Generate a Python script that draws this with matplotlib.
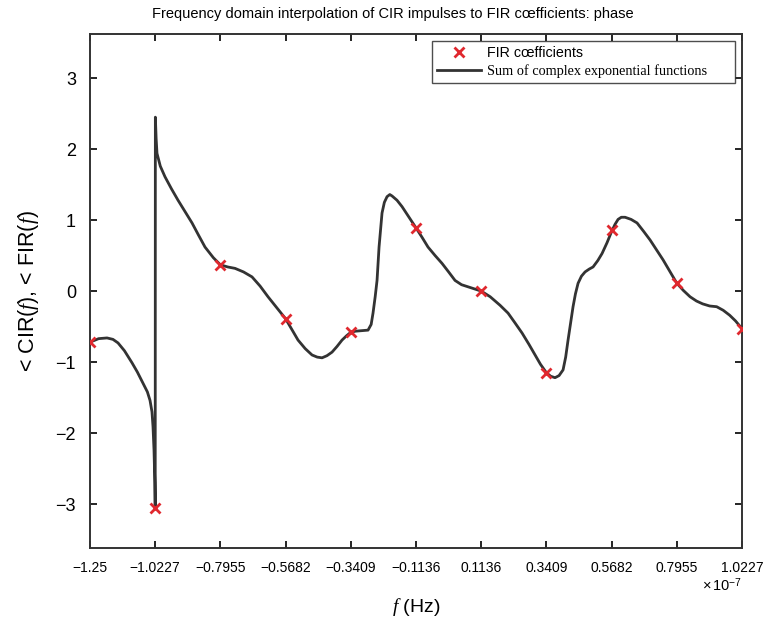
import numpy as np
import matplotlib
matplotlib.use('Agg')
import matplotlib.pyplot as plt

plt.rcParams['font.family'] = ['Liberation Sans', 'DejaVu Sans']
plt.rcParams['mathtext.fontset'] = 'custom'
plt.rcParams['mathtext.it'] = 'Liberation Serif:italic'
plt.rcParams['mathtext.rm'] = 'Liberation Sans'

# FIR coefficients (phase) at the sample frequencies, x in units of 1e-7 Hz
fir_f = [-1.25, -1.0227, -0.7955, -0.5682, -0.3409, -0.1136,
         0.1136, 0.3409, 0.5682, 0.7955, 1.0227]
fir_phase = [-0.72, -3.06, 0.37, -0.39, -0.58, 0.89,
             0.0, -1.15, 0.86, 0.12, -0.53]

# sum of complex exponential functions
curve_f = [-1.2500, -1.2200, -1.1907, -1.1700, -1.1524, -1.1300, -1.1036, -1.0850,
           -1.0652, -1.0500, -1.0408, -1.0340, -1.0304, -1.0269, -1.0240, -1.0227,
           -1.0222, -1.0195, -1.0165, -1.0050, -0.9886, -0.9660, -0.9432, -0.9190,
           -0.8944, -0.8720, -0.8491, -0.8200, -0.7955, -0.7700, -0.7445, -0.7150,
           -0.6853, -0.6570, -0.6295, -0.6000, -0.5682, -0.5450, -0.5249, -0.5000,
           -0.4761, -0.4580, -0.4412, -0.4240, -0.4064, -0.3890, -0.3715, -0.3560,
           -0.3409, -0.3250, -0.3088, -0.2950, -0.2809, -0.2700, -0.2635, -0.2560,
           -0.2495, -0.2460, -0.2425, -0.2370, -0.2321, -0.2240, -0.2146, -0.2050,
           -0.1972, -0.1800, -0.1624, -0.1380, -0.1136, -0.0930, -0.0718, -0.0470,
           -0.0229, 0.0000, 0.0224, 0.0450, 0.0677, 0.0900, 0.1136, 0.1450,
           0.1793, 0.2071, 0.2300, 0.2559, 0.2800, 0.3013, 0.3200, 0.3409,
           0.3560, 0.3710, 0.3850, 0.3989, 0.4080, 0.4163, 0.4250, 0.4337,
           0.4420, 0.4512, 0.4630, 0.4756, 0.4900, 0.5035, 0.5200, 0.5349,
           0.5520, 0.5682, 0.5800, 0.5906, 0.6020, 0.6150, 0.6360, 0.6568,
           0.6800, 0.7022, 0.7250, 0.7475, 0.7720, 0.7955, 0.8180, 0.8416,
           0.8640, 0.8855, 0.9100, 0.9343, 0.9570, 0.9796, 1.0000, 1.0227]
curve_phase = [-0.72, -0.67, -0.66, -0.68, -0.73, -0.84, -1.01, -1.14,
               -1.30, -1.42, -1.54, -1.70, -1.91, -2.24, -2.70, -3.06,
               2.45, 2.15, 1.94, 1.76, 1.61, 1.44, 1.28, 1.12,
               0.96, 0.79, 0.62, 0.47, 0.37, 0.34, 0.32, 0.27,
               0.20, 0.07, -0.08, -0.23, -0.39, -0.55, -0.69, -0.81,
               -0.90, -0.93, -0.94, -0.91, -0.86, -0.78, -0.69, -0.63,
               -0.58, -0.565, -0.56, -0.555, -0.55, -0.47, -0.31, -0.08,
               0.15, 0.38, 0.62, 0.88, 1.10, 1.25, 1.33, 1.36,
               1.34, 1.28, 1.19, 1.04, 0.89, 0.76, 0.62, 0.50,
               0.39, 0.27, 0.15, 0.09, 0.06, 0.03, 0.00, -0.08,
               -0.20, -0.31, -0.44, -0.59, -0.75, -0.90, -1.03, -1.15,
               -1.20, -1.22, -1.19, -1.11, -0.93, -0.69, -0.45, -0.22,
               -0.04, 0.11, 0.21, 0.27, 0.31, 0.34, 0.43, 0.53,
               0.68, 0.84, 0.94, 1.01, 1.04, 1.04, 1.01, 0.96,
               0.84, 0.72, 0.58, 0.44, 0.27, 0.11, 0.01, -0.08,
               -0.14, -0.18, -0.21, -0.22, -0.27, -0.34, -0.42, -0.53]

xtick_labels = ['\u22121.25', '\u22121.0227', '\u22120.7955', '\u22120.5682',
                '\u22120.3409', '\u22120.1136', '0.1136', '0.3409',
                '0.5682', '0.7955', '1.0227']
yticks = [-3, -2, -1, 0, 1, 2, 3]
ytick_labels = ['\u22123', '\u22122', '\u22121', '0', '1', '2', '3']

fig = plt.figure(figsize=(7.66, 6.2), dpi=100)
ax = fig.add_axes([0.1175, 0.116, 0.8512, 0.829])

ax.plot(fir_f, fir_phase, 'x', color='#e0282e', markersize=7, mew=2,
        label='FIR c\u0153fficients', zorder=3)
ax.plot(curve_f, curve_phase, '-', color='#333333', lw=2,
        solid_joinstyle='round', label='Sum of complex exponential functions', zorder=2)

ax.set_xlim(-1.25, 1.0227)
ax.set_ylim(-3.62, 3.62)
ax.set_xticks(fir_f)
ax.set_xticklabels(xtick_labels, fontsize=10)
ax.set_yticks(yticks)
ax.set_yticklabels(ytick_labels, fontsize=13)
ax.tick_params(direction='in', top=True, right=True, length=5, width=1.2)
ax.tick_params(axis='x', pad=9)
ax.tick_params(axis='y', pad=10)
for s in ax.spines.values():
    s.set_linewidth(1.4)
    s.set_color('#333333')

ax.set_xlabel('$f$ (Hz)', fontsize=14)
ax.xaxis.set_label_coords(0.5, -0.093)
ax.set_ylabel('< CIR($f$), < FIR($f$)', fontsize=15.5, va='center')
ax.yaxis.set_label_coords(-0.095, 0.5)
fig.text(0.513, 0.977,
         'Frequency domain interpolation of CIR impulses to FIR c\u0153fficients: phase',
         ha='center', va='center', fontsize=10.5)
ax.text(1.0, -0.072, '$\\times\\,\\mathrm{10}^{-7}$', transform=ax.transAxes,
        ha='right', va='center', fontsize=10.5)

leg = ax.legend(loc='upper left', mode='expand', fontsize=10.3, frameon=True,
                fancybox=False, edgecolor='#222222', borderpad=0.35,
                handlelength=3.1, handletextpad=0.4, labelspacing=0.25,
                borderaxespad=0, bbox_to_anchor=(0.5245, 0.5, 0.4645, 0.486))
leg.get_frame().set_linewidth(1.0)
leg.get_texts()[1].set_family('Liberation Serif')

fig.savefig('out.png', dpi=100)
plt.close(fig)
